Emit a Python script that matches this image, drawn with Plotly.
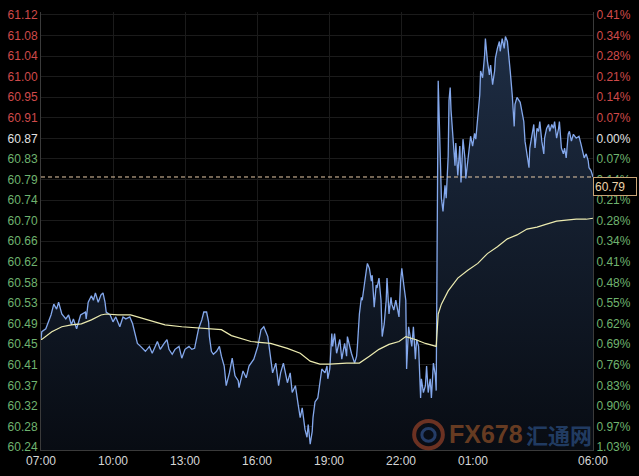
import pandas as pd
import plotly.graph_objects as go

# ---------------- data ----------------
session_start = pd.Timestamp("2019-11-20 07:00")

price_minutes = [
    0, 2, 12, 25, 32, 39, 44, 52, 62, 69, 76, 81, 89, 99, 111, 113, 118, 126, 131, 136,
    143, 150, 155, 160, 163, 173, 180, 187, 197, 205, 212, 222, 229, 234, 241, 249, 261, 271, 278, 291,
    298, 308, 315, 320, 328, 335, 345, 352, 360, 370, 377, 384, 389, 394, 402, 407, 414, 419, 421, 426,
    431, 439, 446, 451, 458, 463, 471, 478, 485, 493, 495, 505, 513, 520, 532, 542, 550, 557, 567, 574,
    579, 587, 594, 599, 606, 616, 623, 628, 636, 643, 648, 653, 656, 660, 665, 668, 673, 678, 680, 685,
    692, 697, 702, 710, 715, 717, 722, 727, 729, 734, 739, 747, 752, 759, 764, 766, 776, 784, 789, 791,
    796, 801, 803, 813, 816, 821, 826, 828, 833, 838, 840, 845, 850, 853, 858, 863, 865, 870, 875, 877,
    882, 887, 895, 899, 902, 907, 912, 914, 919, 927, 931, 936, 939, 944, 949, 951, 956, 961, 964, 968,
    973, 976, 981, 986, 988, 993, 998, 1001, 1005, 1010, 1013, 1018, 1020, 1023, 1025, 1030, 1035, 1037, 1042, 1047,
    1050, 1055, 1060, 1062, 1067, 1072, 1074, 1079, 1084, 1087, 1092, 1097, 1099, 1104, 1109, 1111, 1116, 1121, 1124, 1129,
    1134, 1136, 1141, 1146, 1148, 1153, 1158, 1161, 1166, 1171, 1173, 1178, 1183, 1185, 1190, 1198, 1207, 1210, 1215, 1220,
    1222, 1227, 1232, 1235, 1240, 1244, 1247, 1252, 1257, 1259, 1264, 1269, 1272, 1277, 1281, 1284, 1289, 1294, 1296, 1301,
    1306, 1309, 1313, 1318, 1321, 1326, 1331, 1338, 1345, 1350, 1355, 1358, 1363, 1368, 1370, 1375, 1380,
]
price_values = [
    60.459, 60.475, 60.481, 60.509, 60.531, 60.521, 60.535, 60.511, 60.501, 60.509, 60.489, 60.501, 60.481, 60.509, 60.515, 60.501, 60.535, 60.548, 60.539, 60.554,
    60.535, 60.550, 60.554, 60.535, 60.515, 60.509, 60.495, 60.505, 60.485, 60.505, 60.501, 60.505, 60.491, 60.475, 60.451, 60.445, 60.435, 60.445, 60.431, 60.455,
    60.439, 60.451, 60.459, 60.439, 60.429, 60.439, 60.445, 60.421, 60.439, 60.445, 60.439, 60.441, 60.459, 60.481, 60.499, 60.515, 60.515, 60.495, 60.465, 60.435,
    60.429, 60.435, 60.445, 60.425, 60.405, 60.365, 60.391, 60.421, 60.385, 60.375, 60.361, 60.395, 60.381, 60.405, 60.419, 60.445, 60.479, 60.485, 60.465, 60.425,
    60.391, 60.411, 60.365, 60.391, 60.411, 60.371, 60.391, 60.351, 60.365, 60.326, 60.300, 60.320, 60.300, 60.276, 60.260, 60.286, 60.246, 60.272, 60.300, 60.332,
    60.340, 60.365, 60.399, 60.391, 60.405, 60.379, 60.399, 60.471, 60.445, 60.471, 60.431, 60.459, 60.419, 60.451, 60.425, 60.465, 60.431, 60.411, 60.425, 60.445,
    60.511, 60.545, 60.539, 60.598, 60.614, 60.604, 60.578, 60.590, 60.525, 60.570, 60.564, 60.584, 60.539, 60.465, 60.491, 60.539, 60.584, 60.511, 60.545, 60.531,
    60.519, 60.539, 60.505, 60.578, 60.604, 60.570, 60.539, 60.399, 60.485, 60.445, 60.485, 60.419, 60.459, 60.445, 60.340, 60.379, 60.351, 60.365, 60.405, 60.351,
    60.379, 60.340, 60.411, 60.385, 60.355, 60.986, 60.793, 60.747, 60.720, 60.773, 60.747, 60.833, 60.946, 60.972, 60.927, 60.873, 60.813, 60.859, 60.793, 60.853,
    60.779, 60.867, 60.827, 60.787, 60.827, 60.853, 60.873, 60.853, 60.879, 60.867, 60.913, 60.958, 61.006, 60.992, 61.038, 61.072, 61.026, 60.998, 61.018, 60.978,
    61.006, 61.032, 61.052, 61.066, 61.046, 61.072, 61.052, 61.076, 61.066, 61.032, 61.006, 60.958, 60.893, 60.938, 60.952, 60.942, 60.903, 60.863, 60.837, 60.809,
    60.849, 60.877, 60.897, 60.849, 60.889, 60.883, 60.903, 60.863, 60.837, 60.869, 60.889, 60.897, 60.883, 60.897, 60.889, 60.903, 60.869, 60.889, 60.903, 60.849,
    60.837, 60.849, 60.829, 60.877, 60.883, 60.863, 60.877, 60.869, 60.873, 60.857, 60.837, 60.829, 60.837, 60.823, 60.809, 60.803, 60.790,
]

avg_minutes = [
    0, 2, 27, 52, 76, 101, 126, 150, 163, 192, 224, 241, 310, 352, 394, 451, 476, 500, 525, 574,
    616, 648, 673, 697, 722, 764, 796, 821, 845, 870, 895, 912, 936, 961, 986, 988, 993, 1001, 1018, 1042,
    1067, 1092, 1116, 1141, 1166, 1190, 1215, 1240, 1264, 1289, 1313, 1338, 1363, 1380,
]
avg_values = [
    60.459, 60.459, 60.475, 60.485, 60.489, 60.491, 60.499, 60.509, 60.511, 60.509, 60.509, 60.505, 60.489, 60.485, 60.483, 60.479, 60.467, 60.461, 60.455, 60.451,
    60.441, 60.431, 60.415, 60.409, 60.409, 60.411, 60.411, 60.425, 60.439, 60.449, 60.455, 60.465, 60.459, 60.451, 60.445, 60.445, 60.511, 60.531, 60.558, 60.584,
    60.600, 60.614, 60.634, 60.648, 60.664, 60.672, 60.684, 60.688, 60.694, 60.700, 60.702, 60.704, 60.704, 60.706,
]

last_price = 60.79
last_price_text = "60.79"

axis_low, axis_high = 60.24, 61.12
price_labels = ["61.12", "61.08", "61.04", "61.00", "60.95", "60.91", "60.87", "60.83", "60.79", "60.74", "60.70",
                "60.66", "60.62", "60.58", "60.53", "60.49", "60.45", "60.41", "60.37", "60.32", "60.28", "60.24"]
pct_labels = ["0.41%", "0.34%", "0.28%", "0.21%", "0.14%", "0.07%", "0.00%", "0.07%", "0.14%", "0.21%", "0.28%",
              "0.34%", "0.41%", "0.48%", "0.55%", "0.62%", "0.69%", "0.76%", "0.83%", "0.90%", "0.97%", "1.03%"]
label_side = ["up"] * 6 + ["flat"] + ["down"] * 15

time_tick_minutes = [0, 180, 360, 540, 720, 900, 1080, 1380]
time_tick_text = ["07:00", "10:00", "13:00", "16:00", "19:00", "22:00", "01:00", "06:00"]

# ---------------- styling ----------------
side_color = {"up": "#cf4a4a", "flat": "#e2e2e2", "down": "#6fb36f"}
FONT = "Arial, Liberation Sans, sans-serif"


def t(m):
    return session_start + pd.Timedelta(minutes=m)


price_t = [t(m) for m in price_minutes]
avg_t = [t(m) for m in avg_minutes]
x_lo, x_hi = t(0), t(time_tick_minutes[-1])

n = len(price_labels)
step = (axis_high - axis_low) / (n - 1)
tick_pos = [axis_high - i * step for i in range(n)]
left_text = [f'<span style="color:{side_color[s]}">{lab}</span>' for lab, s in zip(price_labels, label_side)]
right_text = [f'<span style="color:{side_color[s]}">{lab}</span>' for lab, s in zip(pct_labels, label_side)]

pad = 0.006
yr = [axis_low - pad, axis_high + pad]

fig = go.Figure()

# baseline for area fill
fig.add_trace(go.Scatter(x=[x_lo, x_hi], y=[yr[0], yr[0]], mode="lines",
                         line=dict(width=0, color="rgba(0,0,0,0)"), hoverinfo="skip", showlegend=False))
fig.add_trace(go.Scatter(
    x=price_t, y=price_values, mode="lines", fill="tonexty",
    fillgradient=dict(type="vertical", colorscale=[[0, "rgb(8,12,19)"], [1, "rgb(30,45,68)"]]),
    line=dict(color="#84a8ec", width=1.3), hoverinfo="skip", showlegend=False))
fig.add_trace(go.Scatter(x=avg_t, y=avg_values, mode="lines",
                         line=dict(color="#ecebb0", width=1.2), hoverinfo="skip", showlegend=False))
fig.add_trace(go.Scatter(x=[x_lo, x_hi], y=[last_price, last_price], mode="lines", yaxis="y2",
                         line=dict(color="#e6c9a6", width=1, dash="4px,3px"), hoverinfo="skip", showlegend=False))

grid = "#1b1b1b"
fig.update_layout(
    width=639, height=476, autosize=False,
    margin=dict(l=37, r=42, t=8, b=20, pad=0),
    paper_bgcolor="#000000", plot_bgcolor="#000000",
    font=dict(family=FONT, size=12, color="#d0d0d0"),
    xaxis=dict(type="date", range=[x_lo, x_hi], tickvals=[t(m) for m in time_tick_minutes],
               ticktext=time_tick_text, showgrid=True, gridcolor=grid, gridwidth=1,
               showline=True, linecolor="#3a3a3a", linewidth=1, mirror=False, zeroline=False,
               ticks="", tickfont=dict(size=12, color="#d6d6d6", family=FONT)),
    yaxis=dict(range=yr, tickvals=tick_pos, ticktext=left_text, showgrid=True, gridcolor=grid,
               gridwidth=1, showline=True, linecolor="#3a3a3a", linewidth=1, zeroline=False,
               ticks="", tickfont=dict(size=12, family=FONT)),
    yaxis2=dict(range=yr, overlaying="y", side="right", tickvals=tick_pos, ticktext=right_text,
                showgrid=False, showline=True, linecolor="#3a3a3a", linewidth=1, zeroline=False,
                ticks="", tickfont=dict(size=12, family=FONT)),
    showlegend=False,
)

# last price tag
fig.add_annotation(xref="paper", x=1.0, yref="y", y=last_price, xanchor="left", yanchor="top",
                   text=last_price_text, showarrow=False, align="left",
                   font=dict(size=12, color="#ecd2a8", family=FONT),
                   bgcolor="#000000", bordercolor="#c9a476", borderwidth=1, borderpad=1, width=40, height=15)

# watermark
fig.add_shape(type="circle", xref="paper", yref="paper", x0=0.676, x1=0.728, y0=0.004, y1=0.066,
              line=dict(color="rgba(190,80,45,0.55)", width=4))
fig.add_shape(type="circle", xref="paper", yref="paper", x0=0.690, x1=0.714, y0=0.020, y1=0.049,
              line=dict(color="rgba(60,100,170,0.55)", width=3))
fig.add_annotation(xref="paper", yref="paper", x=0.806, y=0.036, xanchor="center", yanchor="middle",
                   text="<b>FX678</b>", showarrow=False,
                   font=dict(size=25, color="rgba(185,100,45,0.55)", family=FONT))
fig.add_annotation(xref="paper", yref="paper", x=0.938, y=0.036, xanchor="center", yanchor="middle",
                   text="<b>汇通网</b>", showarrow=False,
                   font=dict(size=22, color="rgba(55,100,165,0.55)", family="Noto Sans CJK SC"))

post = (
    "document.documentElement.style.margin='0';document.documentElement.style.overflow='hidden';"
    "document.body.style.margin='0';document.body.style.padding='0';document.body.style.overflow='hidden';"
    "var d=document.getElementById('{plot_id}');d.style.position='fixed';d.style.left='0px';d.style.top='0px';"
)
fig.write_html("out.html", config={"displayModeBar": False, "responsive": False}, post_script=post)
